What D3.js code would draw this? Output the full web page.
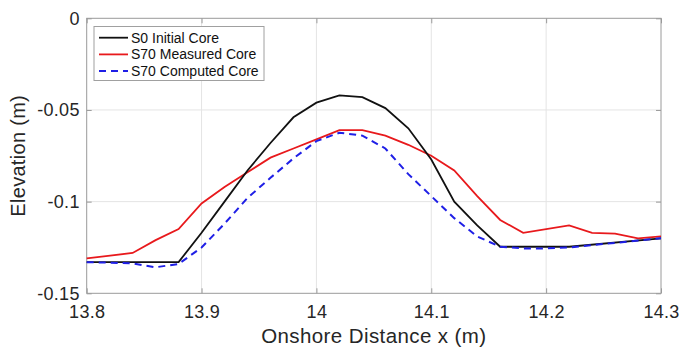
<!DOCTYPE html>
<html><head><meta charset="utf-8">
<script src="https://cdn.jsdelivr.net/npm/d3@7"></script>
<style>body{margin:0;background:#fff}svg{display:block;font-family:"Liberation Sans",Arial,Helvetica,sans-serif}</style>
</head><body><svg id="c" width="682" height="348"></svg>
<script>
const xTicks = [13.8, 13.9, 14.0, 14.1, 14.2, 14.3];
const xTickLabels = ["13.8", "13.9", "14", "14.1", "14.2", "14.3"];
const yTicks = [0, -0.05, -0.1, -0.15];
const yTickLabels = ["0", "-0.05", "-0.1", "-0.15"];
const seriesNames = ["S0 Initial Core", "S70 Measured Core", "S70 Computed Core"];

const initialX = [13.8, 13.88, 13.9, 13.92, 13.94, 13.96, 13.98, 14.0, 14.02, 14.04, 14.06, 14.08, 14.1, 14.12, 14.14, 14.16, 14.18, 14.2, 14.22, 14.3];
const initialY = [-0.133, -0.133, -0.117, -0.1, -0.083, -0.068, -0.054, -0.046, -0.042, -0.043, -0.049, -0.06, -0.077, -0.1, -0.113, -0.1246, -0.1246, -0.1246, -0.1246, -0.12];

const measuredX = [13.8, 13.84, 13.86, 13.88, 13.9, 13.92, 13.94, 13.96, 13.98, 14.0, 14.02, 14.04, 14.06, 14.08, 14.1, 14.12, 14.14, 14.16, 14.18, 14.22, 14.24, 14.26, 14.28, 14.3];
const measuredY = [-0.131, -0.128, -0.121, -0.115, -0.101, -0.092, -0.084, -0.076, -0.071, -0.066, -0.061, -0.061, -0.064, -0.069, -0.075, -0.083, -0.097, -0.110, -0.117, -0.113, -0.117, -0.1175, -0.12, -0.119];

const computedX = [13.8, 13.82, 13.84, 13.86, 13.88, 13.9, 13.92, 13.94, 13.96, 13.98, 14.0, 14.02, 14.04, 14.06, 14.08, 14.1, 14.12, 14.14, 14.16, 14.18, 14.2, 14.22, 14.3];
const computedY = [-0.133, -0.1333, -0.1337, -0.1358, -0.134, -0.125, -0.112, -0.098, -0.087, -0.0764, -0.067, -0.0624, -0.064, -0.071, -0.085, -0.097, -0.109, -0.119, -0.1246, -0.1255, -0.1255, -0.125, -0.12];

const svg = d3.select("#c");
const L = 86.7, R = 661, T = 18.3, B = 293.3;
const x = d3.scaleLinear().domain([13.8, 14.3]).range([L, R]);
const y = d3.scaleLinear().domain([-0.15, 0]).range([B, T]);

// grid
const g = svg.append("g");
g.selectAll(".gx").data(xTicks.slice(1, -1)).join("line")
  .attr("x1", d => x(d)).attr("x2", d => x(d)).attr("y1", T).attr("y2", B)
  .attr("stroke", "#e4e4e4").attr("stroke-width", 1);
g.selectAll(".gy").data(yTicks.slice(1, -1)).join("line")
  .attr("y1", d => y(d)).attr("y2", d => y(d)).attr("x1", L).attr("x2", R)
  .attr("stroke", "#e4e4e4").attr("stroke-width", 1);

// axes with inward ticks
const axCol = "#9a9a9a";
function styleAxis(sel) {
  sel.select(".domain").remove();
  sel.selectAll(".tick line").attr("stroke", axCol);
  sel.selectAll(".tick text").attr("fill", "#262626").attr("font-size", 18).attr("letter-spacing", 0.3);
}
const xa = svg.append("g").attr("transform", `translate(0,${B})`)
  .call(d3.axisBottom(x).tickValues(xTicks).tickFormat((d, i) => xTickLabels[i]).tickSizeInner(-5).tickSizeOuter(0).tickPadding(12));
styleAxis(xa);
const xt = svg.append("g").attr("transform", `translate(0,${T})`)
  .call(d3.axisTop(x).tickValues(xTicks).tickFormat("").tickSizeInner(-5).tickSizeOuter(0));
styleAxis(xt);
const ya = svg.append("g").attr("transform", `translate(${L},0)`)
  .call(d3.axisLeft(y).tickValues(yTicks).tickFormat((d, i) => yTickLabels[i]).tickSizeInner(-5).tickSizeOuter(0).tickPadding(7));
styleAxis(ya);
const yr = svg.append("g").attr("transform", `translate(${R},0)`)
  .call(d3.axisRight(y).tickValues(yTicks).tickFormat("").tickSizeInner(-5).tickSizeOuter(0));
styleAxis(yr);

svg.append("rect").attr("x", L).attr("y", T).attr("width", R - L).attr("height", B - T)
  .attr("fill", "none").attr("stroke", axCol).attr("stroke-width", 1);

// lines
const line = d3.line().x(d => x(d[0])).y(d => y(d[1]));
const zip = (a, b) => a.map((v, i) => [v, b[i]]);
svg.append("path").datum(zip(measuredX, measuredY)).attr("d", line)
  .attr("fill", "none").attr("stroke", "#e8191c").attr("stroke-width", 1.8);
svg.append("path").datum(zip(initialX, initialY)).attr("d", line)
  .attr("fill", "none").attr("stroke", "#111").attr("stroke-width", 1.8);
svg.append("path").datum(zip(computedX, computedY)).attr("d", line)
  .attr("fill", "none").attr("stroke", "#1f1fe6").attr("stroke-width", 2).attr("stroke-dasharray", "7,5");

// axis titles
svg.append("text").attr("x", (L + R) / 2).attr("y", 342.5).attr("text-anchor", "middle")
  .attr("font-size", 20.5).attr("letter-spacing", 0.4).attr("fill", "#262626").text("Onshore Distance x (m)");
svg.append("text").attr("transform", `translate(25,${(T + B) / 2}) rotate(-90)`).attr("text-anchor", "middle")
  .attr("font-size", 20).attr("letter-spacing", 0.3).attr("fill", "#262626").text("Elevation (m)");

// legend
const leg = svg.append("g");
leg.append("rect").attr("x", 94).attr("y", 26.5).attr("width", 170).attr("height", 54)
  .attr("fill", "#fff").attr("stroke", "#a0a0a0").attr("stroke-width", 1);
const legStyles = [
  {c: "#111", dash: null, w: 1.8},
  {c: "#e8191c", dash: null, w: 1.8},
  {c: "#1f1fe6", dash: "7,5", w: 2}
];
seriesNames.forEach((n, i) => {
  const yy = 37.7 + i * 16.7;
  leg.append("line").attr("x1", 99).attr("x2", 128).attr("y1", yy).attr("y2", yy)
    .attr("stroke", legStyles[i].c).attr("stroke-width", legStyles[i].w)
    .attr("stroke-dasharray", legStyles[i].dash);
  leg.append("text").attr("x", 131).attr("y", yy + 5).attr("font-size", 14)
    .attr("fill", "#111").text(n);
});
</script></body></html>
